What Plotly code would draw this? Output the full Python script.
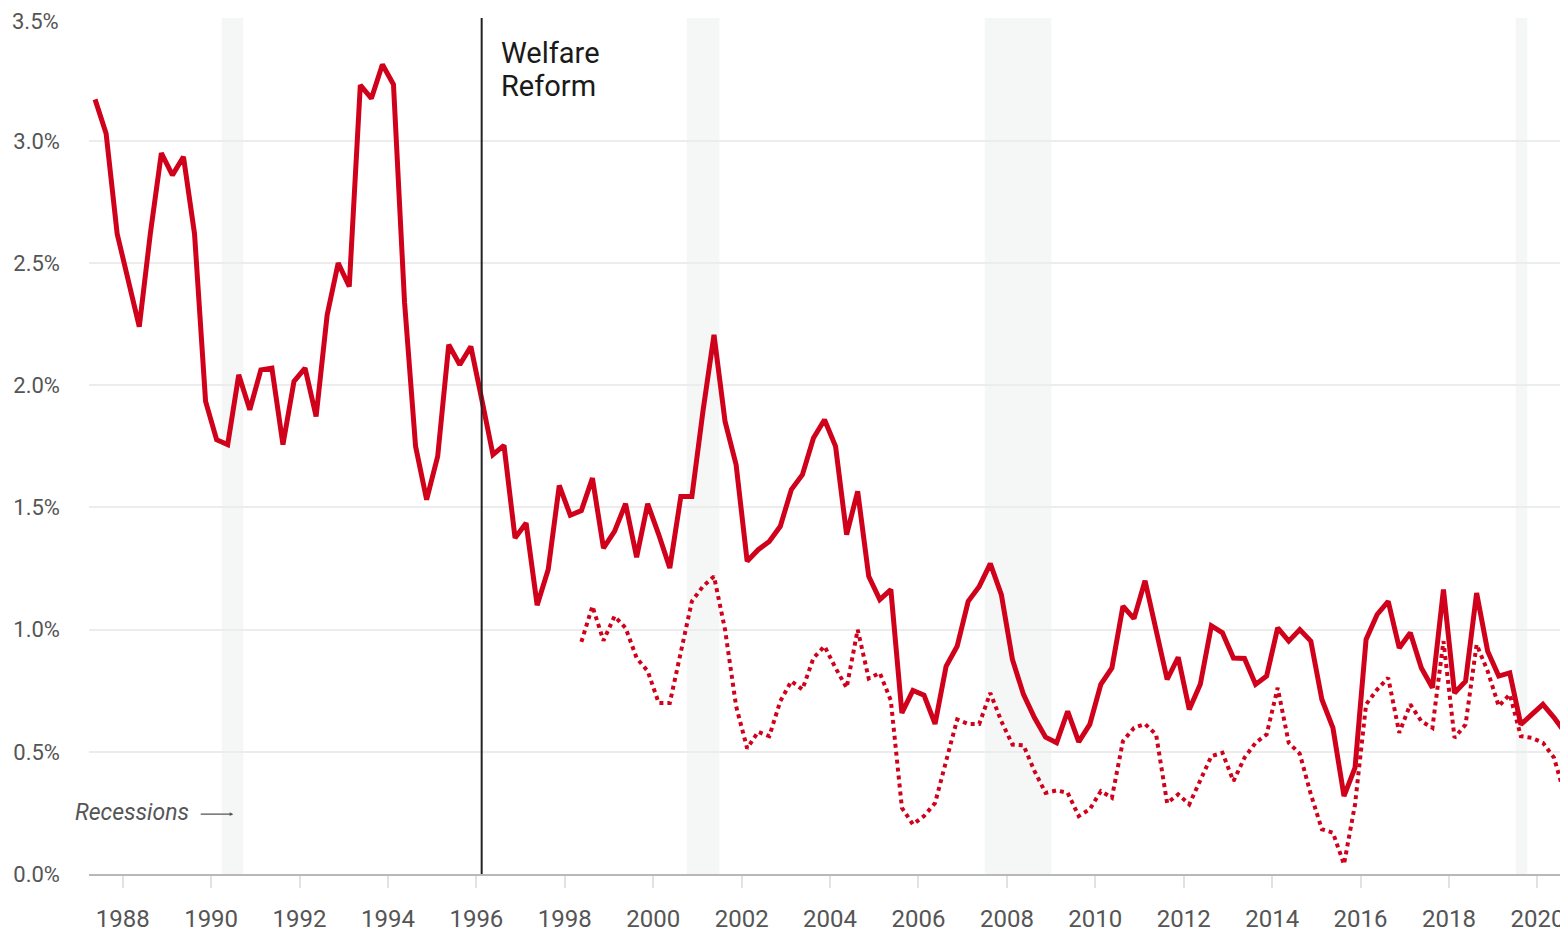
import plotly.graph_objects as go

# Quarterly series, first quarter plotted at 1987.375 (Q2 1987 midpoint)
start_year = 1987.375
solid_vals = [
    3.17, 3.03, 2.62, 2.43, 2.24, 2.62, 2.95, 2.86, 2.935, 2.62,
    1.934, 1.777, 1.757, 2.043, 1.90, 2.063, 2.07, 1.757, 2.016, 2.07,
    1.872, 2.288, 2.50, 2.404, 3.228, 3.174, 3.313, 3.231, 2.34, 1.75,
    1.532, 1.709, 2.166, 2.084, 2.159, 1.94, 1.716, 1.754, 1.375, 1.436,
    1.10, 1.246, 1.59, 1.468, 1.487, 1.62, 1.334, 1.402, 1.515, 1.296,
    1.515, 1.389, 1.252, 1.545, 1.545, 1.893, 2.206, 1.852, 1.675, 1.28,
    1.327, 1.361, 1.423, 1.573, 1.634, 1.784, 1.859, 1.75, 1.389, 1.566,
    1.218, 1.123, 1.164, 0.659, 0.751, 0.732, 0.614, 0.85, 0.932, 1.116,
    1.177, 1.27, 1.143, 0.878, 0.735, 0.639, 0.56, 0.537, 0.666, 0.541,
    0.612, 0.776, 0.843, 1.096, 1.045, 1.20, 0.993, 0.796, 0.887, 0.673,
    0.776, 1.016, 0.987, 0.884, 0.882, 0.776, 0.81, 1.007, 0.953, 1.0,
    0.953, 0.714, 0.598, 0.319, 0.435, 0.96, 1.062, 1.116, 0.925, 0.987,
    0.843, 0.762, 1.164, 0.741, 0.789, 1.15, 0.912, 0.81, 0.823, 0.612,
    0.653, 0.694, 0.64, 0.578,
]
dotted_offset = 44  # dotted series begins 44 quarters later
dotted_vals = [
    0.95, 1.096, 0.955, 1.055, 1.007, 0.884, 0.83, 0.70, 0.70, 0.91,
    1.116, 1.177, 1.218, 1.0, 0.687, 0.514, 0.582, 0.564, 0.707, 0.789,
    0.755, 0.884, 0.932, 0.843, 0.762, 1.0, 0.80, 0.823, 0.71, 0.271,
    0.203, 0.237, 0.29, 0.462, 0.632, 0.614, 0.614, 0.741, 0.625, 0.53,
    0.527, 0.421, 0.332, 0.342, 0.332, 0.237, 0.265, 0.339, 0.312, 0.544,
    0.598, 0.614, 0.571, 0.29, 0.326, 0.285, 0.387, 0.482, 0.496, 0.38,
    0.476, 0.537, 0.571, 0.762, 0.537, 0.492, 0.326, 0.183, 0.169, 0.04,
    0.285, 0.694, 0.755, 0.803, 0.578, 0.694, 0.625, 0.598, 0.953, 0.557,
    0.612, 0.939, 0.83, 0.687, 0.735, 0.564, 0.557, 0.537, 0.476, 0.319,
]
recessions = [(1990.24, 1990.73), (2000.76, 2001.50), (2007.50, 2009.01), (2019.51, 2019.77)]
welfare_reform_x = 1996.12
x_ticks = list(range(1988, 2021, 2))
y_ticks = [0, 0.5, 1.0, 1.5, 2.0, 2.5, 3.0, 3.5]
y_tick_labels = [f"{v:.1f}%" for v in y_ticks]

solid_x = [start_year + 0.25 * i for i in range(len(solid_vals))]
dotted_x = [start_year + 0.25 * (i + dotted_offset) for i in range(len(dotted_vals))]

RED = "#d0021b"
GREY_TEXT = "#555555"
fig = go.Figure()
fig.add_trace(go.Scatter(x=solid_x, y=solid_vals, mode="lines",
                         line=dict(color=RED, width=5), showlegend=False, hoverinfo="skip"))
fig.add_trace(go.Scatter(x=dotted_x, y=dotted_vals, mode="lines",
                         line=dict(color=RED, width=4, dash="4px,4px"), showlegend=False, hoverinfo="skip"))

shapes = []
for a, b in recessions:
    shapes.append(dict(type="rect", xref="x", yref="paper", x0=a, x1=b, y0=0, y1=1,
                       fillcolor="#f5f7f7", line=dict(width=0), layer="below"))
shapes.append(dict(type="line", xref="x", yref="paper", x0=welfare_reform_x, x1=welfare_reform_x,
                   y0=0, y1=1, line=dict(color="#222222", width=2)))

label_font = dict(family="Roboto", size=29, color="#1a1a1a")
annotations = [
    dict(x=welfare_reform_x + 0.40, y=0.9591, xref="x", yref="paper", text="Welfare",
         showarrow=False, xanchor="left", yanchor="middle", font=label_font),
    dict(x=welfare_reform_x + 0.40, y=0.9206, xref="x", yref="paper", text="Reform",
         showarrow=False, xanchor="left", yanchor="middle", font=label_font),
    dict(x=1989.55, y=0.25, xref="x", yref="y", text="<i>Recessions</i>", showarrow=False,
         xanchor="right", yanchor="middle", font=dict(family="Roboto", size=23, color=GREY_TEXT)),
    dict(x=1990.50, y=0.245, xref="x", yref="y", text="", showarrow=True, ax=-34, ay=0,
         arrowhead=2, arrowsize=0.6, arrowwidth=1.2, arrowcolor=GREY_TEXT),
    # top y label placed as annotation so it stays inside the figure
    dict(x=-0.0196, y=1.0117, xref="paper", yref="paper", text=y_tick_labels[-1], showarrow=False,
         xanchor="right", yanchor="top", borderpad=0,
         font=dict(family="Roboto", size=22, color=GREY_TEXT)),
]

fig.update_layout(
    width=1560, height=927,
    margin=dict(l=81, r=0, t=10, b=61, autoexpand=False),
    plot_bgcolor="white", paper_bgcolor="white",
    shapes=shapes, annotations=annotations,
    xaxis=dict(range=[1987.238, 2020.692], tickvals=x_ticks, ticktext=[str(t) for t in x_ticks],
               showgrid=False, zeroline=False, showline=True, linecolor="#b8b8b8", linewidth=2,
               ticks="outside", ticklen=12, tickwidth=2, tickcolor="#e2e2e2",
               ticklabelstandoff=10, ticklabeloverflow="allow", automargin=False,
               tickfont=dict(family="Roboto", size=24, color=GREY_TEXT)),
    yaxis=dict(range=[0, 3.503], tickvals=y_ticks, ticktext=y_tick_labels[:-1] + [""],
               showgrid=True, gridcolor="#ececec", gridwidth=2, zeroline=False, showline=False,
               ticks="", ticklabelstandoff=28, ticklabeloverflow="allow", automargin=False,
               tickfont=dict(family="Roboto", size=22, color=GREY_TEXT)),
)

fig.write_html("out.html")
